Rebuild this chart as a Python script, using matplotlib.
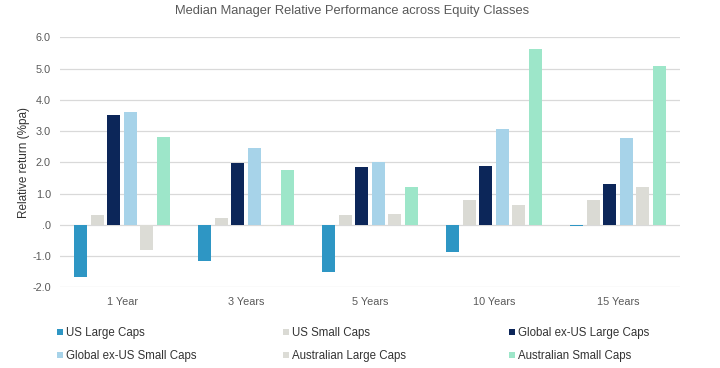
import matplotlib
matplotlib.use("Agg")
import matplotlib.pyplot as plt
import numpy as np

plt.rcParams['font.family'] = ['Liberation Sans', 'DejaVu Sans']

categories = ["1 Year", "3 Years", "5 Years", "10 Years", "15 Years"]
series_names = ["US Large Caps", "US Small Caps", "Global ex-US Large Caps",
                "Global ex-US Small Caps", "Australian Large Caps", "Australian Small Caps"]
us_large = [-1.67, -1.17, -1.50, -0.86, -0.05]
us_small = [0.32, 0.21, 0.30, 0.80, 0.78]
global_large = [3.52, 1.99, 1.85, 1.87, 1.31]
global_small = [3.60, 2.45, 2.00, 3.07, 2.77]
aus_large = [-0.82, -0.03, 0.35, 0.64, 1.22]
aus_small = [2.82, 1.74, 1.22, 5.64, 5.08]
colors = ["#2E96C4", "#DADAD4", "#0C2659", "#A7D3E9", "#DCDCD6", "#9DE6C9"]
y_ticks = [-2, -1, 0, 1, 2, 3, 4, 5, 6]
y_ticklabels = ["-2.0", "-1.0", ".0", "1.0", "2.0", "3.0", "4.0", "5.0", "6.0"]

values = [us_large, us_small, global_large, global_small, aus_large, aus_small]
text_color = "#595959"

fig = plt.figure(figsize=(7.2, 3.68), dpi=100)
ax = fig.add_axes([60/720, 1-287.3/368, 620/720, 250/368])

x = np.arange(len(categories))
step = 0.133
width = 0.102
handles = []
for i, (vals, col, name) in enumerate(zip(values, colors, series_names)):
    h = ax.bar(x + (i - 2.5) * step, vals, width, color=col, label=name, zorder=3)
    handles.append(h)

ax.set_xlim(-0.5, len(categories) - 0.5)
ax.set_ylim(-2, 6)
ax.set_yticks(y_ticks)
ax.set_yticklabels(y_ticklabels)
ax.set_xticks(x)
ax.set_xticklabels(categories)
ax.tick_params(axis='both', length=0, labelsize=7.8, colors=text_color)
ax.tick_params(axis='x', pad=7)
ax.tick_params(axis='y', pad=6.5)
for s in ax.spines.values():
    s.set_visible(False)
ax.grid(axis='y', color="#D9D9D9", linewidth=0.9, zorder=0)
ax.set_ylabel("Relative return (%pa)", fontsize=8.5, color="#333333", labelpad=1.5)

fig.text(352/720, 1-11/368, "Median Manager Relative Performance across Equity Classes",
         ha='center', va='center', fontsize=9.3, color=text_color)

col_x = [57/720, 283/720, 509/720]
cols = [[0, 3], [1, 4], [2, 5]]
for cx, idx in zip(col_x, cols):
    leg = fig.legend([handles[i] for i in idx], [series_names[i] for i in idx],
                     loc='upper left', bbox_to_anchor=(cx, 1-327/368), frameon=False,
                     fontsize=8.3, handlelength=0.5, handleheight=0.5, handletextpad=0.3,
                     labelspacing=0.95, borderpad=0, borderaxespad=0)
    for t in leg.get_texts():
        t.set_color("#333333")

fig.savefig("out.png", dpi=100)
